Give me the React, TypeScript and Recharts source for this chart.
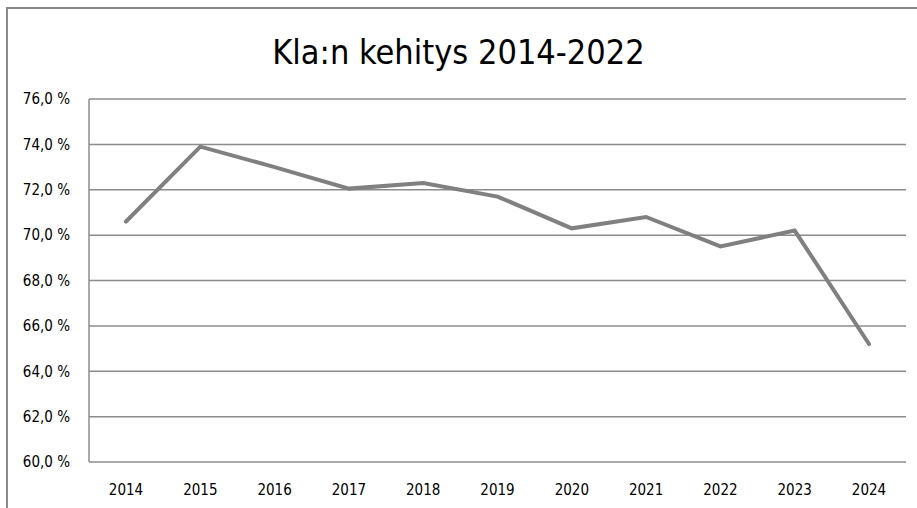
import React from "react";
import { LineChart, Line, XAxis, YAxis, CartesianGrid } from "recharts";

const years = ["2014", "2015", "2016", "2017", "2018", "2019", "2020", "2021", "2022", "2023", "2024"];
const shares = [70.6, 73.9, 73.0, 72.05, 72.3, 71.7, 70.3, 70.8, 69.5, 70.2, 65.2];
const yTicks = [60, 62, 64, 66, 68, 70, 72, 74, 76];
const title = "Kla:n kehitys 2014-2022";

const data = years.map((y, i) => ({ year: y, value: shares[i] }));

const FONT = "'Liberation Sans Narrow', 'DejaVu Sans Condensed', 'Roboto Condensed', 'Arial Narrow', sans-serif";
const GRID = "#8c8c8c";

const fmt = (v: number) => v.toFixed(1).replace(".", ",") + " %";

export default function App() {
  return (
    <div style={{ position: "absolute", left: 0, top: 0, width: 917, height: 508, overflow: "hidden", background: "#fff", fontFamily: FONT }}>
      <div
        style={{
          position: "absolute",
          left: 6,
          top: 7,
          width: 911,
          height: 501,
          borderTop: "2px solid #8a8a8a",
          borderLeft: "2px solid #8a8a8a",
          boxSizing: "border-box",
        }}
      />
      <div
        style={{
          position: "absolute",
          left: 0,
          top: 32,
          width: 917,
          textAlign: "center",
          fontSize: 34,
          lineHeight: "40px",
          color: "#000",
          fontFamily: FONT,
        }}
      >
        {title}
      </div>
      <div style={{ position: "absolute", left: 0, top: 0 }}>
        <LineChart width={917} height={508} data={data} margin={{ top: 99, right: 11, left: 0, bottom: 16 }}>
          <CartesianGrid horizontal={true} vertical={false} stroke={GRID} strokeWidth={1.5} />
          <XAxis
            dataKey="year"
            height={30}
            axisLine={false}
            tickLine={false}
            tickSize={0}
            tickMargin={22}
            padding={{ left: 37, right: 37 }}
            tick={{ fill: "#000", fontSize: 15, fontFamily: FONT }}
            interval={0}
          />
          <YAxis
            width={89}
            domain={[60, 76]}
            ticks={yTicks}
            tickFormatter={fmt}
            axisLine={{ stroke: GRID, strokeWidth: 1.5 }}
            tickLine={false}
            tickSize={0}
            tickMargin={19}
            tick={{ fill: "#000", fontSize: 15, fontFamily: FONT }}
            allowDataOverflow
          />
          <Line
            type="linear"
            dataKey="value"
            stroke="#808080"
            strokeWidth={4}
            dot={false}
            isAnimationActive={false}
            strokeLinecap="round"
          />
        </LineChart>
      </div>
    </div>
  );
}
